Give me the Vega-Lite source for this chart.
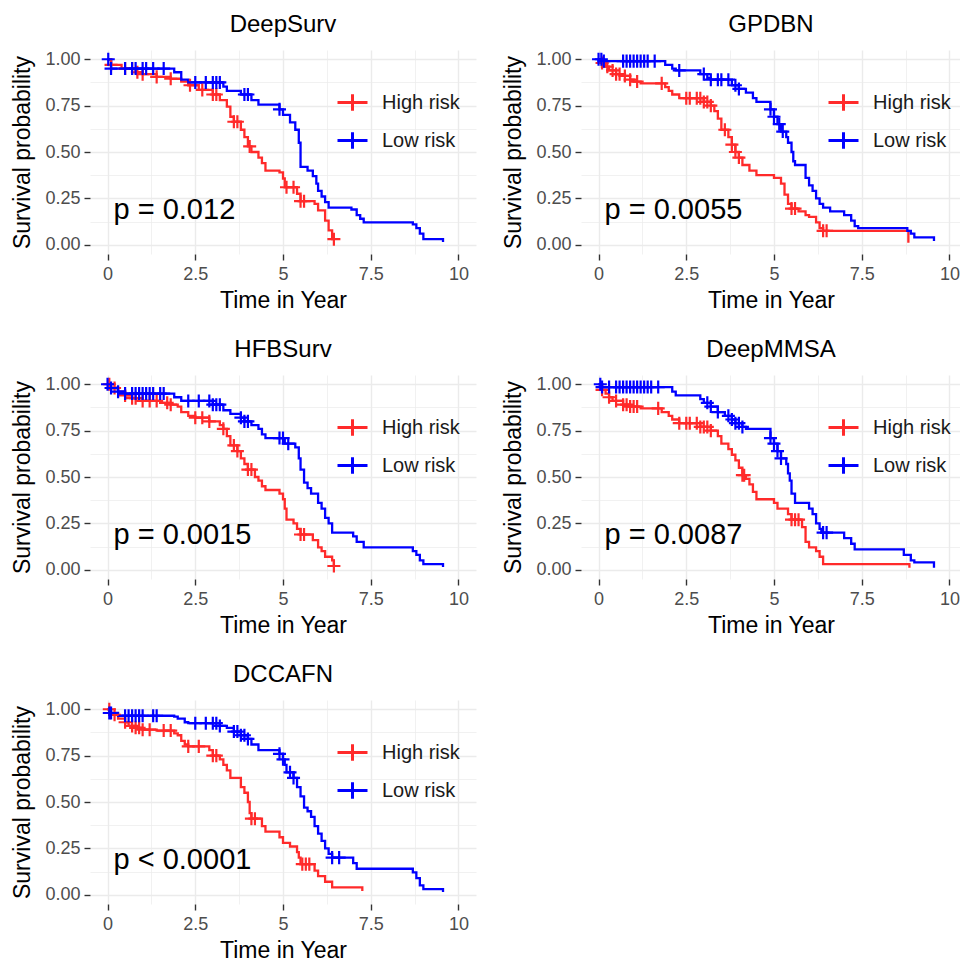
{
"$schema": "https://vega.github.io/schema/vega-lite/v6.json",
"padding": {"left": 11, "top": 13, "right": 0, "bottom": 0},
"columns": 2,
"bounds": "flush",
"spacing": {"row": 121, "column": 105},
"datasets": {
"pv": [
{"p":"DeepSurv","t":0.17,"s":0.14,"label":"p = 0.012"},
{"p":"GPDBN","t":0.17,"s":0.14,"label":"p = 0.0055"},
{"p":"HFBSurv","t":0.17,"s":0.14,"label":"p = 0.0015"},
{"p":"DeepMMSA","t":0.17,"s":0.14,"label":"p = 0.0087"},
{"p":"DCCAFN","t":0.17,"s":0.14,"label":"p < 0.0001"}
],
"km": [
{"p":"DeepSurv","g":"High risk","k":"c","t":0,"s":1},
{"p":"DeepSurv","g":"High risk","k":"c","t":0.1,"s":0.97},
{"p":"DeepSurv","g":"High risk","k":"c","t":0.4,"s":0.95},
{"p":"DeepSurv","g":"High risk","k":"c","t":0.8,"s":0.93},
{"p":"DeepSurv","g":"High risk","k":"c","t":1.0,"s":0.92},
{"p":"DeepSurv","g":"High risk","k":"c","t":1.4,"s":0.905},
{"p":"DeepSurv","g":"High risk","k":"c","t":1.8,"s":0.895},
{"p":"DeepSurv","g":"High risk","k":"c","t":2.1,"s":0.88},
{"p":"DeepSurv","g":"High risk","k":"c","t":2.3,"s":0.86},
{"p":"DeepSurv","g":"High risk","k":"c","t":2.6,"s":0.835},
{"p":"DeepSurv","g":"High risk","k":"c","t":3.0,"s":0.81},
{"p":"DeepSurv","g":"High risk","k":"c","t":3.2,"s":0.78},
{"p":"DeepSurv","g":"High risk","k":"c","t":3.4,"s":0.745},
{"p":"DeepSurv","g":"High risk","k":"c","t":3.5,"s":0.69},
{"p":"DeepSurv","g":"High risk","k":"c","t":3.6,"s":0.663},
{"p":"DeepSurv","g":"High risk","k":"c","t":3.8,"s":0.62},
{"p":"DeepSurv","g":"High risk","k":"c","t":3.9,"s":0.58},
{"p":"DeepSurv","g":"High risk","k":"c","t":4.0,"s":0.53},
{"p":"DeepSurv","g":"High risk","k":"c","t":4.1,"s":0.5},
{"p":"DeepSurv","g":"High risk","k":"c","t":4.3,"s":0.47},
{"p":"DeepSurv","g":"High risk","k":"c","t":4.4,"s":0.44},
{"p":"DeepSurv","g":"High risk","k":"c","t":4.5,"s":0.4},
{"p":"DeepSurv","g":"High risk","k":"c","t":4.9,"s":0.39},
{"p":"DeepSurv","g":"High risk","k":"c","t":5.0,"s":0.357},
{"p":"DeepSurv","g":"High risk","k":"c","t":5.05,"s":0.31},
{"p":"DeepSurv","g":"High risk","k":"c","t":5.4,"s":0.275},
{"p":"DeepSurv","g":"High risk","k":"c","t":5.5,"s":0.235},
{"p":"DeepSurv","g":"High risk","k":"c","t":5.9,"s":0.22},
{"p":"DeepSurv","g":"High risk","k":"c","t":6.0,"s":0.185},
{"p":"DeepSurv","g":"High risk","k":"c","t":6.2,"s":0.13},
{"p":"DeepSurv","g":"High risk","k":"c","t":6.3,"s":0.077},
{"p":"DeepSurv","g":"High risk","k":"c","t":6.4,"s":0.03},
{"p":"DeepSurv","g":"High risk","k":"c","t":6.45,"s":0.03},
{"p":"DeepSurv","g":"Low risk","k":"c","t":0,"s":1},
{"p":"DeepSurv","g":"Low risk","k":"c","t":0.1,"s":0.95},
{"p":"DeepSurv","g":"Low risk","k":"c","t":1.9,"s":0.93},
{"p":"DeepSurv","g":"Low risk","k":"c","t":2.1,"s":0.89},
{"p":"DeepSurv","g":"Low risk","k":"c","t":2.3,"s":0.875},
{"p":"DeepSurv","g":"Low risk","k":"c","t":3.3,"s":0.852},
{"p":"DeepSurv","g":"Low risk","k":"c","t":3.4,"s":0.83},
{"p":"DeepSurv","g":"Low risk","k":"c","t":3.8,"s":0.81},
{"p":"DeepSurv","g":"Low risk","k":"c","t":4.1,"s":0.78},
{"p":"DeepSurv","g":"Low risk","k":"c","t":4.3,"s":0.755},
{"p":"DeepSurv","g":"Low risk","k":"c","t":4.9,"s":0.73},
{"p":"DeepSurv","g":"Low risk","k":"c","t":5.0,"s":0.7},
{"p":"DeepSurv","g":"Low risk","k":"c","t":5.2,"s":0.66},
{"p":"DeepSurv","g":"Low risk","k":"c","t":5.35,"s":0.62},
{"p":"DeepSurv","g":"Low risk","k":"c","t":5.45,"s":0.55},
{"p":"DeepSurv","g":"Low risk","k":"c","t":5.5,"s":0.42},
{"p":"DeepSurv","g":"Low risk","k":"c","t":5.7,"s":0.4},
{"p":"DeepSurv","g":"Low risk","k":"c","t":5.85,"s":0.37},
{"p":"DeepSurv","g":"Low risk","k":"c","t":5.95,"s":0.33},
{"p":"DeepSurv","g":"Low risk","k":"c","t":6.0,"s":0.29},
{"p":"DeepSurv","g":"Low risk","k":"c","t":6.1,"s":0.26},
{"p":"DeepSurv","g":"Low risk","k":"c","t":6.2,"s":0.23},
{"p":"DeepSurv","g":"Low risk","k":"c","t":6.3,"s":0.2},
{"p":"DeepSurv","g":"Low risk","k":"c","t":6.95,"s":0.19},
{"p":"DeepSurv","g":"Low risk","k":"c","t":7.1,"s":0.16},
{"p":"DeepSurv","g":"Low risk","k":"c","t":7.2,"s":0.14},
{"p":"DeepSurv","g":"Low risk","k":"c","t":7.3,"s":0.12},
{"p":"DeepSurv","g":"Low risk","k":"c","t":8.7,"s":0.11},
{"p":"DeepSurv","g":"Low risk","k":"c","t":8.8,"s":0.09},
{"p":"DeepSurv","g":"Low risk","k":"c","t":8.9,"s":0.06},
{"p":"DeepSurv","g":"Low risk","k":"c","t":9.0,"s":0.03},
{"p":"DeepSurv","g":"Low risk","k":"c","t":9.55,"s":0.03},
{"p":"DeepSurv","g":"Low risk","k":"c","t":9.56,"s":0.015},
{"p":"DeepSurv","g":"High risk","k":"x","t":0.1,"s":0.97},
{"p":"DeepSurv","g":"High risk","k":"x","t":0.5,"s":0.95},
{"p":"DeepSurv","g":"High risk","k":"x","t":0.7,"s":0.95},
{"p":"DeepSurv","g":"High risk","k":"x","t":0.85,"s":0.93},
{"p":"DeepSurv","g":"High risk","k":"x","t":1.0,"s":0.92},
{"p":"DeepSurv","g":"High risk","k":"x","t":1.4,"s":0.905},
{"p":"DeepSurv","g":"High risk","k":"x","t":1.8,"s":0.895},
{"p":"DeepSurv","g":"High risk","k":"x","t":2.35,"s":0.86},
{"p":"DeepSurv","g":"High risk","k":"x","t":2.7,"s":0.835},
{"p":"DeepSurv","g":"High risk","k":"x","t":3.0,"s":0.81},
{"p":"DeepSurv","g":"High risk","k":"x","t":3.1,"s":0.81},
{"p":"DeepSurv","g":"High risk","k":"x","t":3.6,"s":0.663},
{"p":"DeepSurv","g":"High risk","k":"x","t":3.7,"s":0.663},
{"p":"DeepSurv","g":"High risk","k":"x","t":4.05,"s":0.53},
{"p":"DeepSurv","g":"High risk","k":"x","t":5.1,"s":0.31},
{"p":"DeepSurv","g":"High risk","k":"x","t":5.3,"s":0.31},
{"p":"DeepSurv","g":"High risk","k":"x","t":5.5,"s":0.235},
{"p":"DeepSurv","g":"High risk","k":"x","t":5.6,"s":0.235},
{"p":"DeepSurv","g":"High risk","k":"x","t":6.45,"s":0.03},
{"p":"DeepSurv","g":"Low risk","k":"x","t":0.02,"s":1},
{"p":"DeepSurv","g":"Low risk","k":"x","t":0.1,"s":0.95},
{"p":"DeepSurv","g":"Low risk","k":"x","t":0.5,"s":0.95},
{"p":"DeepSurv","g":"Low risk","k":"x","t":0.7,"s":0.95},
{"p":"DeepSurv","g":"Low risk","k":"x","t":0.8,"s":0.95},
{"p":"DeepSurv","g":"Low risk","k":"x","t":1.0,"s":0.95},
{"p":"DeepSurv","g":"Low risk","k":"x","t":1.1,"s":0.95},
{"p":"DeepSurv","g":"Low risk","k":"x","t":1.3,"s":0.95},
{"p":"DeepSurv","g":"Low risk","k":"x","t":1.6,"s":0.95},
{"p":"DeepSurv","g":"Low risk","k":"x","t":2.5,"s":0.875},
{"p":"DeepSurv","g":"Low risk","k":"x","t":2.8,"s":0.875},
{"p":"DeepSurv","g":"Low risk","k":"x","t":3.0,"s":0.875},
{"p":"DeepSurv","g":"Low risk","k":"x","t":3.1,"s":0.875},
{"p":"DeepSurv","g":"Low risk","k":"x","t":3.2,"s":0.875},
{"p":"DeepSurv","g":"Low risk","k":"x","t":3.9,"s":0.81},
{"p":"DeepSurv","g":"Low risk","k":"x","t":4.0,"s":0.81},
{"p":"DeepSurv","g":"Low risk","k":"x","t":4.9,"s":0.73},

{"p":"GPDBN","g":"High risk","k":"c","t":0,"s":1},
{"p":"GPDBN","g":"High risk","k":"c","t":0.1,"s":0.98},
{"p":"GPDBN","g":"High risk","k":"c","t":0.2,"s":0.96},
{"p":"GPDBN","g":"High risk","k":"c","t":0.3,"s":0.94},
{"p":"GPDBN","g":"High risk","k":"c","t":0.5,"s":0.92},
{"p":"GPDBN","g":"High risk","k":"c","t":0.7,"s":0.91},
{"p":"GPDBN","g":"High risk","k":"c","t":0.9,"s":0.89},
{"p":"GPDBN","g":"High risk","k":"c","t":1.0,"s":0.88},
{"p":"GPDBN","g":"High risk","k":"c","t":1.2,"s":0.87},
{"p":"GPDBN","g":"High risk","k":"c","t":1.9,"s":0.85},
{"p":"GPDBN","g":"High risk","k":"c","t":2.0,"s":0.83},
{"p":"GPDBN","g":"High risk","k":"c","t":2.1,"s":0.81},
{"p":"GPDBN","g":"High risk","k":"c","t":2.3,"s":0.79},
{"p":"GPDBN","g":"High risk","k":"c","t":3.0,"s":0.77},
{"p":"GPDBN","g":"High risk","k":"c","t":3.2,"s":0.75},
{"p":"GPDBN","g":"High risk","k":"c","t":3.3,"s":0.72},
{"p":"GPDBN","g":"High risk","k":"c","t":3.4,"s":0.68},
{"p":"GPDBN","g":"High risk","k":"c","t":3.5,"s":0.62},
{"p":"GPDBN","g":"High risk","k":"c","t":3.7,"s":0.58},
{"p":"GPDBN","g":"High risk","k":"c","t":3.8,"s":0.54},
{"p":"GPDBN","g":"High risk","k":"c","t":3.9,"s":0.5},
{"p":"GPDBN","g":"High risk","k":"c","t":4.0,"s":0.47},
{"p":"GPDBN","g":"High risk","k":"c","t":4.1,"s":0.43},
{"p":"GPDBN","g":"High risk","k":"c","t":4.3,"s":0.4},
{"p":"GPDBN","g":"High risk","k":"c","t":4.5,"s":0.375},
{"p":"GPDBN","g":"High risk","k":"c","t":5.0,"s":0.36},
{"p":"GPDBN","g":"High risk","k":"c","t":5.2,"s":0.33},
{"p":"GPDBN","g":"High risk","k":"c","t":5.3,"s":0.27},
{"p":"GPDBN","g":"High risk","k":"c","t":5.4,"s":0.22},
{"p":"GPDBN","g":"High risk","k":"c","t":5.5,"s":0.195},
{"p":"GPDBN","g":"High risk","k":"c","t":5.7,"s":0.18},
{"p":"GPDBN","g":"High risk","k":"c","t":5.9,"s":0.16},
{"p":"GPDBN","g":"High risk","k":"c","t":6.0,"s":0.15},
{"p":"GPDBN","g":"High risk","k":"c","t":6.2,"s":0.12},
{"p":"GPDBN","g":"High risk","k":"c","t":6.3,"s":0.09},
{"p":"GPDBN","g":"High risk","k":"c","t":6.4,"s":0.075},
{"p":"GPDBN","g":"High risk","k":"c","t":8.82,"s":0.075},
{"p":"GPDBN","g":"High risk","k":"c","t":8.83,"s":0.01},
{"p":"GPDBN","g":"Low risk","k":"c","t":0,"s":1},
{"p":"GPDBN","g":"Low risk","k":"c","t":0.1,"s":0.99},
{"p":"GPDBN","g":"Low risk","k":"c","t":1.9,"s":0.97},
{"p":"GPDBN","g":"Low risk","k":"c","t":2.1,"s":0.95},
{"p":"GPDBN","g":"Low risk","k":"c","t":2.2,"s":0.94},
{"p":"GPDBN","g":"Low risk","k":"c","t":2.9,"s":0.92},
{"p":"GPDBN","g":"Low risk","k":"c","t":3.1,"s":0.9},
{"p":"GPDBN","g":"Low risk","k":"c","t":3.2,"s":0.89},
{"p":"GPDBN","g":"Low risk","k":"c","t":3.8,"s":0.86},
{"p":"GPDBN","g":"Low risk","k":"c","t":4.0,"s":0.84},
{"p":"GPDBN","g":"Low risk","k":"c","t":4.2,"s":0.82},
{"p":"GPDBN","g":"Low risk","k":"c","t":4.4,"s":0.79},
{"p":"GPDBN","g":"Low risk","k":"c","t":4.5,"s":0.77},
{"p":"GPDBN","g":"Low risk","k":"c","t":4.9,"s":0.73},
{"p":"GPDBN","g":"Low risk","k":"c","t":5.0,"s":0.69},
{"p":"GPDBN","g":"Low risk","k":"c","t":5.1,"s":0.65},
{"p":"GPDBN","g":"Low risk","k":"c","t":5.2,"s":0.61},
{"p":"GPDBN","g":"Low risk","k":"c","t":5.35,"s":0.58},
{"p":"GPDBN","g":"Low risk","k":"c","t":5.4,"s":0.55},
{"p":"GPDBN","g":"Low risk","k":"c","t":5.5,"s":0.5},
{"p":"GPDBN","g":"Low risk","k":"c","t":5.55,"s":0.45},
{"p":"GPDBN","g":"Low risk","k":"c","t":5.6,"s":0.43},
{"p":"GPDBN","g":"Low risk","k":"c","t":5.9,"s":0.36},
{"p":"GPDBN","g":"Low risk","k":"c","t":6.0,"s":0.32},
{"p":"GPDBN","g":"Low risk","k":"c","t":6.1,"s":0.29},
{"p":"GPDBN","g":"Low risk","k":"c","t":6.2,"s":0.25},
{"p":"GPDBN","g":"Low risk","k":"c","t":6.3,"s":0.22},
{"p":"GPDBN","g":"Low risk","k":"c","t":6.4,"s":0.2},
{"p":"GPDBN","g":"Low risk","k":"c","t":6.6,"s":0.18},
{"p":"GPDBN","g":"Low risk","k":"c","t":7.0,"s":0.16},
{"p":"GPDBN","g":"Low risk","k":"c","t":7.2,"s":0.13},
{"p":"GPDBN","g":"Low risk","k":"c","t":7.3,"s":0.1},
{"p":"GPDBN","g":"Low risk","k":"c","t":7.4,"s":0.09},
{"p":"GPDBN","g":"Low risk","k":"c","t":8.8,"s":0.075},
{"p":"GPDBN","g":"Low risk","k":"c","t":8.9,"s":0.06},
{"p":"GPDBN","g":"Low risk","k":"c","t":9.0,"s":0.04},
{"p":"GPDBN","g":"Low risk","k":"c","t":9.55,"s":0.04},
{"p":"GPDBN","g":"Low risk","k":"c","t":9.56,"s":0.02},
{"p":"GPDBN","g":"High risk","k":"x","t":0.1,"s":0.98},
{"p":"GPDBN","g":"High risk","k":"x","t":0.25,"s":0.96},
{"p":"GPDBN","g":"High risk","k":"x","t":0.4,"s":0.94},
{"p":"GPDBN","g":"High risk","k":"x","t":0.5,"s":0.92},
{"p":"GPDBN","g":"High risk","k":"x","t":0.6,"s":0.92},
{"p":"GPDBN","g":"High risk","k":"x","t":0.75,"s":0.91},
{"p":"GPDBN","g":"High risk","k":"x","t":0.9,"s":0.89},
{"p":"GPDBN","g":"High risk","k":"x","t":1.1,"s":0.88},
{"p":"GPDBN","g":"High risk","k":"x","t":1.8,"s":0.87},
{"p":"GPDBN","g":"High risk","k":"x","t":2.5,"s":0.79},
{"p":"GPDBN","g":"High risk","k":"x","t":2.6,"s":0.79},
{"p":"GPDBN","g":"High risk","k":"x","t":2.8,"s":0.79},
{"p":"GPDBN","g":"High risk","k":"x","t":2.9,"s":0.79},
{"p":"GPDBN","g":"High risk","k":"x","t":3.0,"s":0.77},
{"p":"GPDBN","g":"High risk","k":"x","t":3.1,"s":0.77},
{"p":"GPDBN","g":"High risk","k":"x","t":3.2,"s":0.75},
{"p":"GPDBN","g":"High risk","k":"x","t":3.6,"s":0.62},
{"p":"GPDBN","g":"High risk","k":"x","t":3.8,"s":0.54},
{"p":"GPDBN","g":"High risk","k":"x","t":3.9,"s":0.5},
{"p":"GPDBN","g":"High risk","k":"x","t":4.0,"s":0.47},
{"p":"GPDBN","g":"High risk","k":"x","t":5.5,"s":0.195},
{"p":"GPDBN","g":"High risk","k":"x","t":5.6,"s":0.195},
{"p":"GPDBN","g":"High risk","k":"x","t":6.4,"s":0.075},
{"p":"GPDBN","g":"High risk","k":"x","t":6.5,"s":0.075},
{"p":"GPDBN","g":"Low risk","k":"x","t":0,"s":1},
{"p":"GPDBN","g":"Low risk","k":"x","t":0.08,"s":1},
{"p":"GPDBN","g":"Low risk","k":"x","t":0.15,"s":0.99},
{"p":"GPDBN","g":"Low risk","k":"x","t":0.7,"s":0.99},
{"p":"GPDBN","g":"Low risk","k":"x","t":0.8,"s":0.99},
{"p":"GPDBN","g":"Low risk","k":"x","t":0.9,"s":0.99},
{"p":"GPDBN","g":"Low risk","k":"x","t":1.0,"s":0.99},
{"p":"GPDBN","g":"Low risk","k":"x","t":1.1,"s":0.99},
{"p":"GPDBN","g":"Low risk","k":"x","t":1.2,"s":0.99},
{"p":"GPDBN","g":"Low risk","k":"x","t":1.3,"s":0.99},
{"p":"GPDBN","g":"Low risk","k":"x","t":1.4,"s":0.99},
{"p":"GPDBN","g":"Low risk","k":"x","t":1.6,"s":0.99},
{"p":"GPDBN","g":"Low risk","k":"x","t":2.3,"s":0.94},
{"p":"GPDBN","g":"Low risk","k":"x","t":3.0,"s":0.92},
{"p":"GPDBN","g":"Low risk","k":"x","t":3.2,"s":0.89},
{"p":"GPDBN","g":"Low risk","k":"x","t":3.4,"s":0.89},
{"p":"GPDBN","g":"Low risk","k":"x","t":3.5,"s":0.89},
{"p":"GPDBN","g":"Low risk","k":"x","t":3.7,"s":0.89},
{"p":"GPDBN","g":"Low risk","k":"x","t":3.9,"s":0.86},
{"p":"GPDBN","g":"Low risk","k":"x","t":4.0,"s":0.84},
{"p":"GPDBN","g":"Low risk","k":"x","t":4.9,"s":0.73},
{"p":"GPDBN","g":"Low risk","k":"x","t":5.0,"s":0.69},
{"p":"GPDBN","g":"Low risk","k":"x","t":5.15,"s":0.65},
{"p":"GPDBN","g":"Low risk","k":"x","t":5.25,"s":0.61},

{"p":"HFBSurv","g":"High risk","k":"c","t":0,"s":1},
{"p":"HFBSurv","g":"High risk","k":"c","t":0.1,"s":0.98},
{"p":"HFBSurv","g":"High risk","k":"c","t":0.3,"s":0.96},
{"p":"HFBSurv","g":"High risk","k":"c","t":0.5,"s":0.94},
{"p":"HFBSurv","g":"High risk","k":"c","t":0.7,"s":0.925},
{"p":"HFBSurv","g":"High risk","k":"c","t":1.0,"s":0.91},
{"p":"HFBSurv","g":"High risk","k":"c","t":1.5,"s":0.9},
{"p":"HFBSurv","g":"High risk","k":"c","t":1.8,"s":0.89},
{"p":"HFBSurv","g":"High risk","k":"c","t":2.0,"s":0.88},
{"p":"HFBSurv","g":"High risk","k":"c","t":2.1,"s":0.85},
{"p":"HFBSurv","g":"High risk","k":"c","t":2.3,"s":0.83},
{"p":"HFBSurv","g":"High risk","k":"c","t":2.5,"s":0.82},
{"p":"HFBSurv","g":"High risk","k":"c","t":2.9,"s":0.8},
{"p":"HFBSurv","g":"High risk","k":"c","t":3.2,"s":0.78},
{"p":"HFBSurv","g":"High risk","k":"c","t":3.3,"s":0.76},
{"p":"HFBSurv","g":"High risk","k":"c","t":3.4,"s":0.72},
{"p":"HFBSurv","g":"High risk","k":"c","t":3.5,"s":0.67},
{"p":"HFBSurv","g":"High risk","k":"c","t":3.7,"s":0.64},
{"p":"HFBSurv","g":"High risk","k":"c","t":3.8,"s":0.6},
{"p":"HFBSurv","g":"High risk","k":"c","t":3.9,"s":0.57},
{"p":"HFBSurv","g":"High risk","k":"c","t":4.0,"s":0.54},
{"p":"HFBSurv","g":"High risk","k":"c","t":4.2,"s":0.5},
{"p":"HFBSurv","g":"High risk","k":"c","t":4.3,"s":0.48},
{"p":"HFBSurv","g":"High risk","k":"c","t":4.4,"s":0.45},
{"p":"HFBSurv","g":"High risk","k":"c","t":4.5,"s":0.43},
{"p":"HFBSurv","g":"High risk","k":"c","t":4.9,"s":0.41},
{"p":"HFBSurv","g":"High risk","k":"c","t":5.0,"s":0.38},
{"p":"HFBSurv","g":"High risk","k":"c","t":5.05,"s":0.33},
{"p":"HFBSurv","g":"High risk","k":"c","t":5.1,"s":0.27},
{"p":"HFBSurv","g":"High risk","k":"c","t":5.3,"s":0.25},
{"p":"HFBSurv","g":"High risk","k":"c","t":5.4,"s":0.22},
{"p":"HFBSurv","g":"High risk","k":"c","t":5.5,"s":0.19},
{"p":"HFBSurv","g":"High risk","k":"c","t":5.85,"s":0.16},
{"p":"HFBSurv","g":"High risk","k":"c","t":6.0,"s":0.12},
{"p":"HFBSurv","g":"High risk","k":"c","t":6.1,"s":0.1},
{"p":"HFBSurv","g":"High risk","k":"c","t":6.2,"s":0.07},
{"p":"HFBSurv","g":"High risk","k":"c","t":6.4,"s":0.05},
{"p":"HFBSurv","g":"High risk","k":"c","t":6.45,"s":0.02},
{"p":"HFBSurv","g":"Low risk","k":"c","t":0,"s":1},
{"p":"HFBSurv","g":"Low risk","k":"c","t":0.05,"s":0.98},
{"p":"HFBSurv","g":"Low risk","k":"c","t":0.3,"s":0.96},
{"p":"HFBSurv","g":"Low risk","k":"c","t":0.5,"s":0.95},
{"p":"HFBSurv","g":"Low risk","k":"c","t":1.9,"s":0.93},
{"p":"HFBSurv","g":"Low risk","k":"c","t":2.1,"s":0.91},
{"p":"HFBSurv","g":"Low risk","k":"c","t":3.0,"s":0.89},
{"p":"HFBSurv","g":"Low risk","k":"c","t":3.3,"s":0.86},
{"p":"HFBSurv","g":"Low risk","k":"c","t":3.5,"s":0.84},
{"p":"HFBSurv","g":"Low risk","k":"c","t":3.8,"s":0.82},
{"p":"HFBSurv","g":"Low risk","k":"c","t":3.9,"s":0.8},
{"p":"HFBSurv","g":"Low risk","k":"c","t":4.1,"s":0.78},
{"p":"HFBSurv","g":"Low risk","k":"c","t":4.3,"s":0.76},
{"p":"HFBSurv","g":"Low risk","k":"c","t":4.4,"s":0.73},
{"p":"HFBSurv","g":"Low risk","k":"c","t":4.5,"s":0.71},
{"p":"HFBSurv","g":"Low risk","k":"c","t":5.05,"s":0.68},
{"p":"HFBSurv","g":"Low risk","k":"c","t":5.35,"s":0.66},
{"p":"HFBSurv","g":"Low risk","k":"c","t":5.45,"s":0.6},
{"p":"HFBSurv","g":"Low risk","k":"c","t":5.5,"s":0.54},
{"p":"HFBSurv","g":"Low risk","k":"c","t":5.6,"s":0.47},
{"p":"HFBSurv","g":"Low risk","k":"c","t":5.7,"s":0.44},
{"p":"HFBSurv","g":"Low risk","k":"c","t":5.8,"s":0.41},
{"p":"HFBSurv","g":"Low risk","k":"c","t":6.0,"s":0.36},
{"p":"HFBSurv","g":"Low risk","k":"c","t":6.1,"s":0.33},
{"p":"HFBSurv","g":"Low risk","k":"c","t":6.2,"s":0.28},
{"p":"HFBSurv","g":"Low risk","k":"c","t":6.3,"s":0.25},
{"p":"HFBSurv","g":"Low risk","k":"c","t":6.4,"s":0.2},
{"p":"HFBSurv","g":"Low risk","k":"c","t":7.0,"s":0.18},
{"p":"HFBSurv","g":"Low risk","k":"c","t":7.1,"s":0.15},
{"p":"HFBSurv","g":"Low risk","k":"c","t":7.3,"s":0.12},
{"p":"HFBSurv","g":"Low risk","k":"c","t":8.7,"s":0.1},
{"p":"HFBSurv","g":"Low risk","k":"c","t":8.8,"s":0.08},
{"p":"HFBSurv","g":"Low risk","k":"c","t":8.9,"s":0.05},
{"p":"HFBSurv","g":"Low risk","k":"c","t":9.0,"s":0.03},
{"p":"HFBSurv","g":"Low risk","k":"c","t":9.55,"s":0.03},
{"p":"HFBSurv","g":"Low risk","k":"c","t":9.56,"s":0.015},
{"p":"HFBSurv","g":"High risk","k":"x","t":0.05,"s":1},
{"p":"HFBSurv","g":"High risk","k":"x","t":0.2,"s":0.98},
{"p":"HFBSurv","g":"High risk","k":"x","t":0.5,"s":0.94},
{"p":"HFBSurv","g":"High risk","k":"x","t":0.7,"s":0.925},
{"p":"HFBSurv","g":"High risk","k":"x","t":0.8,"s":0.925},
{"p":"HFBSurv","g":"High risk","k":"x","t":1.0,"s":0.91},
{"p":"HFBSurv","g":"High risk","k":"x","t":1.2,"s":0.91},
{"p":"HFBSurv","g":"High risk","k":"x","t":1.4,"s":0.91},
{"p":"HFBSurv","g":"High risk","k":"x","t":1.7,"s":0.9},
{"p":"HFBSurv","g":"High risk","k":"x","t":1.8,"s":0.89},
{"p":"HFBSurv","g":"High risk","k":"x","t":2.5,"s":0.82},
{"p":"HFBSurv","g":"High risk","k":"x","t":2.7,"s":0.82},
{"p":"HFBSurv","g":"High risk","k":"x","t":2.9,"s":0.8},
{"p":"HFBSurv","g":"High risk","k":"x","t":3.3,"s":0.76},
{"p":"HFBSurv","g":"High risk","k":"x","t":3.6,"s":0.67},
{"p":"HFBSurv","g":"High risk","k":"x","t":3.7,"s":0.64},
{"p":"HFBSurv","g":"High risk","k":"x","t":4.0,"s":0.54},
{"p":"HFBSurv","g":"High risk","k":"x","t":4.1,"s":0.54},
{"p":"HFBSurv","g":"High risk","k":"x","t":5.5,"s":0.19},
{"p":"HFBSurv","g":"High risk","k":"x","t":5.6,"s":0.19},
{"p":"HFBSurv","g":"High risk","k":"x","t":6.45,"s":0.02},
{"p":"HFBSurv","g":"Low risk","k":"x","t":0,"s":1},
{"p":"HFBSurv","g":"Low risk","k":"x","t":0.1,"s":0.98},
{"p":"HFBSurv","g":"Low risk","k":"x","t":0.3,"s":0.96},
{"p":"HFBSurv","g":"Low risk","k":"x","t":0.5,"s":0.95},
{"p":"HFBSurv","g":"Low risk","k":"x","t":0.7,"s":0.95},
{"p":"HFBSurv","g":"Low risk","k":"x","t":0.8,"s":0.95},
{"p":"HFBSurv","g":"Low risk","k":"x","t":0.9,"s":0.95},
{"p":"HFBSurv","g":"Low risk","k":"x","t":1.0,"s":0.95},
{"p":"HFBSurv","g":"Low risk","k":"x","t":1.1,"s":0.95},
{"p":"HFBSurv","g":"Low risk","k":"x","t":1.2,"s":0.95},
{"p":"HFBSurv","g":"Low risk","k":"x","t":1.3,"s":0.95},
{"p":"HFBSurv","g":"Low risk","k":"x","t":1.5,"s":0.95},
{"p":"HFBSurv","g":"Low risk","k":"x","t":1.6,"s":0.95},
{"p":"HFBSurv","g":"Low risk","k":"x","t":2.3,"s":0.91},
{"p":"HFBSurv","g":"Low risk","k":"x","t":2.6,"s":0.91},
{"p":"HFBSurv","g":"Low risk","k":"x","t":2.9,"s":0.91},
{"p":"HFBSurv","g":"Low risk","k":"x","t":3.0,"s":0.89},
{"p":"HFBSurv","g":"Low risk","k":"x","t":3.1,"s":0.89},
{"p":"HFBSurv","g":"Low risk","k":"x","t":3.2,"s":0.89},
{"p":"HFBSurv","g":"Low risk","k":"x","t":3.8,"s":0.82},
{"p":"HFBSurv","g":"Low risk","k":"x","t":3.9,"s":0.8},
{"p":"HFBSurv","g":"Low risk","k":"x","t":4.0,"s":0.8},
{"p":"HFBSurv","g":"Low risk","k":"x","t":4.9,"s":0.71},
{"p":"HFBSurv","g":"Low risk","k":"x","t":5.0,"s":0.71},
{"p":"HFBSurv","g":"Low risk","k":"x","t":5.15,"s":0.68},

{"p":"DeepMMSA","g":"High risk","k":"c","t":0,"s":1},
{"p":"DeepMMSA","g":"High risk","k":"c","t":0.1,"s":0.97},
{"p":"DeepMMSA","g":"High risk","k":"c","t":0.2,"s":0.95},
{"p":"DeepMMSA","g":"High risk","k":"c","t":0.3,"s":0.93},
{"p":"DeepMMSA","g":"High risk","k":"c","t":0.4,"s":0.91},
{"p":"DeepMMSA","g":"High risk","k":"c","t":0.7,"s":0.89},
{"p":"DeepMMSA","g":"High risk","k":"c","t":0.9,"s":0.88},
{"p":"DeepMMSA","g":"High risk","k":"c","t":1.2,"s":0.87},
{"p":"DeepMMSA","g":"High risk","k":"c","t":1.8,"s":0.85},
{"p":"DeepMMSA","g":"High risk","k":"c","t":2.0,"s":0.83},
{"p":"DeepMMSA","g":"High risk","k":"c","t":2.1,"s":0.81},
{"p":"DeepMMSA","g":"High risk","k":"c","t":2.3,"s":0.79},
{"p":"DeepMMSA","g":"High risk","k":"c","t":2.9,"s":0.77},
{"p":"DeepMMSA","g":"High risk","k":"c","t":3.2,"s":0.75},
{"p":"DeepMMSA","g":"High risk","k":"c","t":3.4,"s":0.72},
{"p":"DeepMMSA","g":"High risk","k":"c","t":3.5,"s":0.68},
{"p":"DeepMMSA","g":"High risk","k":"c","t":3.7,"s":0.65},
{"p":"DeepMMSA","g":"High risk","k":"c","t":3.8,"s":0.62},
{"p":"DeepMMSA","g":"High risk","k":"c","t":3.9,"s":0.59},
{"p":"DeepMMSA","g":"High risk","k":"c","t":4.0,"s":0.55},
{"p":"DeepMMSA","g":"High risk","k":"c","t":4.1,"s":0.51},
{"p":"DeepMMSA","g":"High risk","k":"c","t":4.2,"s":0.49},
{"p":"DeepMMSA","g":"High risk","k":"c","t":4.3,"s":0.46},
{"p":"DeepMMSA","g":"High risk","k":"c","t":4.4,"s":0.42},
{"p":"DeepMMSA","g":"High risk","k":"c","t":4.5,"s":0.38},
{"p":"DeepMMSA","g":"High risk","k":"c","t":5.0,"s":0.36},
{"p":"DeepMMSA","g":"High risk","k":"c","t":5.1,"s":0.33},
{"p":"DeepMMSA","g":"High risk","k":"c","t":5.4,"s":0.3},
{"p":"DeepMMSA","g":"High risk","k":"c","t":5.5,"s":0.27},
{"p":"DeepMMSA","g":"High risk","k":"c","t":5.8,"s":0.23},
{"p":"DeepMMSA","g":"High risk","k":"c","t":5.9,"s":0.15},
{"p":"DeepMMSA","g":"High risk","k":"c","t":6.0,"s":0.12},
{"p":"DeepMMSA","g":"High risk","k":"c","t":6.2,"s":0.1},
{"p":"DeepMMSA","g":"High risk","k":"c","t":6.3,"s":0.07},
{"p":"DeepMMSA","g":"High risk","k":"c","t":6.4,"s":0.03},
{"p":"DeepMMSA","g":"High risk","k":"c","t":8.85,"s":0.03},
{"p":"DeepMMSA","g":"High risk","k":"c","t":8.86,"s":0.01},
{"p":"DeepMMSA","g":"Low risk","k":"c","t":0,"s":1},
{"p":"DeepMMSA","g":"Low risk","k":"c","t":0.1,"s":0.985},
{"p":"DeepMMSA","g":"Low risk","k":"c","t":2.1,"s":0.96},
{"p":"DeepMMSA","g":"Low risk","k":"c","t":2.2,"s":0.94},
{"p":"DeepMMSA","g":"Low risk","k":"c","t":2.9,"s":0.92},
{"p":"DeepMMSA","g":"Low risk","k":"c","t":3.0,"s":0.9},
{"p":"DeepMMSA","g":"Low risk","k":"c","t":3.2,"s":0.88},
{"p":"DeepMMSA","g":"Low risk","k":"c","t":3.4,"s":0.85},
{"p":"DeepMMSA","g":"Low risk","k":"c","t":3.6,"s":0.83},
{"p":"DeepMMSA","g":"Low risk","k":"c","t":3.8,"s":0.81},
{"p":"DeepMMSA","g":"Low risk","k":"c","t":3.9,"s":0.79},
{"p":"DeepMMSA","g":"Low risk","k":"c","t":4.1,"s":0.77},
{"p":"DeepMMSA","g":"Low risk","k":"c","t":4.2,"s":0.76},
{"p":"DeepMMSA","g":"Low risk","k":"c","t":4.9,"s":0.71},
{"p":"DeepMMSA","g":"Low risk","k":"c","t":5.0,"s":0.68},
{"p":"DeepMMSA","g":"Low risk","k":"c","t":5.1,"s":0.64},
{"p":"DeepMMSA","g":"Low risk","k":"c","t":5.2,"s":0.6},
{"p":"DeepMMSA","g":"Low risk","k":"c","t":5.35,"s":0.57},
{"p":"DeepMMSA","g":"Low risk","k":"c","t":5.4,"s":0.52},
{"p":"DeepMMSA","g":"Low risk","k":"c","t":5.45,"s":0.48},
{"p":"DeepMMSA","g":"Low risk","k":"c","t":5.5,"s":0.41},
{"p":"DeepMMSA","g":"Low risk","k":"c","t":5.6,"s":0.36},
{"p":"DeepMMSA","g":"Low risk","k":"c","t":6.0,"s":0.33},
{"p":"DeepMMSA","g":"Low risk","k":"c","t":6.1,"s":0.3},
{"p":"DeepMMSA","g":"Low risk","k":"c","t":6.2,"s":0.25},
{"p":"DeepMMSA","g":"Low risk","k":"c","t":6.3,"s":0.22},
{"p":"DeepMMSA","g":"Low risk","k":"c","t":6.35,"s":0.2},
{"p":"DeepMMSA","g":"Low risk","k":"c","t":7.0,"s":0.17},
{"p":"DeepMMSA","g":"Low risk","k":"c","t":7.2,"s":0.14},
{"p":"DeepMMSA","g":"Low risk","k":"c","t":7.3,"s":0.11},
{"p":"DeepMMSA","g":"Low risk","k":"c","t":8.7,"s":0.08},
{"p":"DeepMMSA","g":"Low risk","k":"c","t":8.9,"s":0.05},
{"p":"DeepMMSA","g":"Low risk","k":"c","t":9.0,"s":0.04},
{"p":"DeepMMSA","g":"Low risk","k":"c","t":9.55,"s":0.04},
{"p":"DeepMMSA","g":"Low risk","k":"c","t":9.56,"s":0.01},
{"p":"DeepMMSA","g":"High risk","k":"x","t":0.1,"s":0.97},
{"p":"DeepMMSA","g":"High risk","k":"x","t":0.3,"s":0.93},
{"p":"DeepMMSA","g":"High risk","k":"x","t":0.5,"s":0.91},
{"p":"DeepMMSA","g":"High risk","k":"x","t":0.7,"s":0.89},
{"p":"DeepMMSA","g":"High risk","k":"x","t":0.8,"s":0.89},
{"p":"DeepMMSA","g":"High risk","k":"x","t":0.9,"s":0.88},
{"p":"DeepMMSA","g":"High risk","k":"x","t":1.0,"s":0.88},
{"p":"DeepMMSA","g":"High risk","k":"x","t":1.1,"s":0.88},
{"p":"DeepMMSA","g":"High risk","k":"x","t":1.7,"s":0.87},
{"p":"DeepMMSA","g":"High risk","k":"x","t":2.3,"s":0.79},
{"p":"DeepMMSA","g":"High risk","k":"x","t":2.5,"s":0.79},
{"p":"DeepMMSA","g":"High risk","k":"x","t":2.6,"s":0.79},
{"p":"DeepMMSA","g":"High risk","k":"x","t":2.8,"s":0.79},
{"p":"DeepMMSA","g":"High risk","k":"x","t":2.9,"s":0.77},
{"p":"DeepMMSA","g":"High risk","k":"x","t":3.0,"s":0.77},
{"p":"DeepMMSA","g":"High risk","k":"x","t":3.1,"s":0.77},
{"p":"DeepMMSA","g":"High risk","k":"x","t":3.2,"s":0.75},
{"p":"DeepMMSA","g":"High risk","k":"x","t":4.1,"s":0.51},
{"p":"DeepMMSA","g":"High risk","k":"x","t":4.15,"s":0.51},
{"p":"DeepMMSA","g":"High risk","k":"x","t":5.5,"s":0.27},
{"p":"DeepMMSA","g":"High risk","k":"x","t":5.6,"s":0.27},
{"p":"DeepMMSA","g":"High risk","k":"x","t":5.7,"s":0.27},
{"p":"DeepMMSA","g":"Low risk","k":"x","t":0.05,"s":1},
{"p":"DeepMMSA","g":"Low risk","k":"x","t":0.1,"s":0.985},
{"p":"DeepMMSA","g":"Low risk","k":"x","t":0.3,"s":0.985},
{"p":"DeepMMSA","g":"Low risk","k":"x","t":0.5,"s":0.985},
{"p":"DeepMMSA","g":"Low risk","k":"x","t":0.6,"s":0.985},
{"p":"DeepMMSA","g":"Low risk","k":"x","t":0.7,"s":0.985},
{"p":"DeepMMSA","g":"Low risk","k":"x","t":0.8,"s":0.985},
{"p":"DeepMMSA","g":"Low risk","k":"x","t":0.9,"s":0.985},
{"p":"DeepMMSA","g":"Low risk","k":"x","t":1.0,"s":0.985},
{"p":"DeepMMSA","g":"Low risk","k":"x","t":1.1,"s":0.985},
{"p":"DeepMMSA","g":"Low risk","k":"x","t":1.2,"s":0.985},
{"p":"DeepMMSA","g":"Low risk","k":"x","t":1.3,"s":0.985},
{"p":"DeepMMSA","g":"Low risk","k":"x","t":1.4,"s":0.985},
{"p":"DeepMMSA","g":"Low risk","k":"x","t":1.5,"s":0.985},
{"p":"DeepMMSA","g":"Low risk","k":"x","t":1.7,"s":0.985},
{"p":"DeepMMSA","g":"Low risk","k":"x","t":3.1,"s":0.9},
{"p":"DeepMMSA","g":"Low risk","k":"x","t":3.2,"s":0.88},
{"p":"DeepMMSA","g":"Low risk","k":"x","t":3.4,"s":0.85},
{"p":"DeepMMSA","g":"Low risk","k":"x","t":3.7,"s":0.83},
{"p":"DeepMMSA","g":"Low risk","k":"x","t":3.8,"s":0.81},
{"p":"DeepMMSA","g":"Low risk","k":"x","t":3.9,"s":0.79},
{"p":"DeepMMSA","g":"Low risk","k":"x","t":4.0,"s":0.79},
{"p":"DeepMMSA","g":"Low risk","k":"x","t":4.1,"s":0.77},
{"p":"DeepMMSA","g":"Low risk","k":"x","t":4.9,"s":0.71},
{"p":"DeepMMSA","g":"Low risk","k":"x","t":5.0,"s":0.68},
{"p":"DeepMMSA","g":"Low risk","k":"x","t":5.1,"s":0.64},
{"p":"DeepMMSA","g":"Low risk","k":"x","t":5.2,"s":0.6},
{"p":"DeepMMSA","g":"Low risk","k":"x","t":6.4,"s":0.2},
{"p":"DeepMMSA","g":"Low risk","k":"x","t":6.5,"s":0.2},

{"p":"DCCAFN","g":"High risk","k":"c","t":0,"s":1},
{"p":"DCCAFN","g":"High risk","k":"c","t":0.1,"s":0.97},
{"p":"DCCAFN","g":"High risk","k":"c","t":0.3,"s":0.95},
{"p":"DCCAFN","g":"High risk","k":"c","t":0.5,"s":0.93},
{"p":"DCCAFN","g":"High risk","k":"c","t":0.6,"s":0.91},
{"p":"DCCAFN","g":"High risk","k":"c","t":0.8,"s":0.9},
{"p":"DCCAFN","g":"High risk","k":"c","t":1.0,"s":0.89},
{"p":"DCCAFN","g":"High risk","k":"c","t":1.4,"s":0.885},
{"p":"DCCAFN","g":"High risk","k":"c","t":1.9,"s":0.87},
{"p":"DCCAFN","g":"High risk","k":"c","t":2.0,"s":0.86},
{"p":"DCCAFN","g":"High risk","k":"c","t":2.1,"s":0.83},
{"p":"DCCAFN","g":"High risk","k":"c","t":2.2,"s":0.81},
{"p":"DCCAFN","g":"High risk","k":"c","t":2.3,"s":0.8},
{"p":"DCCAFN","g":"High risk","k":"c","t":2.9,"s":0.78},
{"p":"DCCAFN","g":"High risk","k":"c","t":3.0,"s":0.75},
{"p":"DCCAFN","g":"High risk","k":"c","t":3.2,"s":0.73},
{"p":"DCCAFN","g":"High risk","k":"c","t":3.3,"s":0.7},
{"p":"DCCAFN","g":"High risk","k":"c","t":3.4,"s":0.67},
{"p":"DCCAFN","g":"High risk","k":"c","t":3.5,"s":0.63},
{"p":"DCCAFN","g":"High risk","k":"c","t":3.8,"s":0.58},
{"p":"DCCAFN","g":"High risk","k":"c","t":3.9,"s":0.55},
{"p":"DCCAFN","g":"High risk","k":"c","t":4.0,"s":0.5},
{"p":"DCCAFN","g":"High risk","k":"c","t":4.05,"s":0.44},
{"p":"DCCAFN","g":"High risk","k":"c","t":4.1,"s":0.41},
{"p":"DCCAFN","g":"High risk","k":"c","t":4.4,"s":0.37},
{"p":"DCCAFN","g":"High risk","k":"c","t":4.5,"s":0.34},
{"p":"DCCAFN","g":"High risk","k":"c","t":4.9,"s":0.31},
{"p":"DCCAFN","g":"High risk","k":"c","t":5.0,"s":0.28},
{"p":"DCCAFN","g":"High risk","k":"c","t":5.2,"s":0.26},
{"p":"DCCAFN","g":"High risk","k":"c","t":5.4,"s":0.23},
{"p":"DCCAFN","g":"High risk","k":"c","t":5.45,"s":0.2},
{"p":"DCCAFN","g":"High risk","k":"c","t":5.5,"s":0.165},
{"p":"DCCAFN","g":"High risk","k":"c","t":5.9,"s":0.13},
{"p":"DCCAFN","g":"High risk","k":"c","t":6.0,"s":0.1},
{"p":"DCCAFN","g":"High risk","k":"c","t":6.2,"s":0.07},
{"p":"DCCAFN","g":"High risk","k":"c","t":6.4,"s":0.04},
{"p":"DCCAFN","g":"High risk","k":"c","t":7.25,"s":0.04},
{"p":"DCCAFN","g":"High risk","k":"c","t":7.26,"s":0.02},
{"p":"DCCAFN","g":"Low risk","k":"c","t":0,"s":1},
{"p":"DCCAFN","g":"Low risk","k":"c","t":0.05,"s":0.98},
{"p":"DCCAFN","g":"Low risk","k":"c","t":0.3,"s":0.965},
{"p":"DCCAFN","g":"Low risk","k":"c","t":1.9,"s":0.96},
{"p":"DCCAFN","g":"Low risk","k":"c","t":2.0,"s":0.95},
{"p":"DCCAFN","g":"Low risk","k":"c","t":2.2,"s":0.93},
{"p":"DCCAFN","g":"Low risk","k":"c","t":2.3,"s":0.925},
{"p":"DCCAFN","g":"Low risk","k":"c","t":3.2,"s":0.91},
{"p":"DCCAFN","g":"Low risk","k":"c","t":3.4,"s":0.9},
{"p":"DCCAFN","g":"Low risk","k":"c","t":3.6,"s":0.88},
{"p":"DCCAFN","g":"Low risk","k":"c","t":3.8,"s":0.86},
{"p":"DCCAFN","g":"Low risk","k":"c","t":4.0,"s":0.84},
{"p":"DCCAFN","g":"Low risk","k":"c","t":4.1,"s":0.81},
{"p":"DCCAFN","g":"Low risk","k":"c","t":4.3,"s":0.78},
{"p":"DCCAFN","g":"Low risk","k":"c","t":4.9,"s":0.76},
{"p":"DCCAFN","g":"Low risk","k":"c","t":5.0,"s":0.73},
{"p":"DCCAFN","g":"Low risk","k":"c","t":5.05,"s":0.7},
{"p":"DCCAFN","g":"Low risk","k":"c","t":5.1,"s":0.66},
{"p":"DCCAFN","g":"Low risk","k":"c","t":5.3,"s":0.63},
{"p":"DCCAFN","g":"Low risk","k":"c","t":5.4,"s":0.58},
{"p":"DCCAFN","g":"Low risk","k":"c","t":5.5,"s":0.53},
{"p":"DCCAFN","g":"Low risk","k":"c","t":5.6,"s":0.47},
{"p":"DCCAFN","g":"Low risk","k":"c","t":5.7,"s":0.45},
{"p":"DCCAFN","g":"Low risk","k":"c","t":5.8,"s":0.42},
{"p":"DCCAFN","g":"Low risk","k":"c","t":5.9,"s":0.37},
{"p":"DCCAFN","g":"Low risk","k":"c","t":6.0,"s":0.33},
{"p":"DCCAFN","g":"Low risk","k":"c","t":6.1,"s":0.29},
{"p":"DCCAFN","g":"Low risk","k":"c","t":6.2,"s":0.25},
{"p":"DCCAFN","g":"Low risk","k":"c","t":6.3,"s":0.22},
{"p":"DCCAFN","g":"Low risk","k":"c","t":6.4,"s":0.2},
{"p":"DCCAFN","g":"Low risk","k":"c","t":7.0,"s":0.17},
{"p":"DCCAFN","g":"Low risk","k":"c","t":7.1,"s":0.14},
{"p":"DCCAFN","g":"Low risk","k":"c","t":8.7,"s":0.12},
{"p":"DCCAFN","g":"Low risk","k":"c","t":8.8,"s":0.09},
{"p":"DCCAFN","g":"Low risk","k":"c","t":8.9,"s":0.05},
{"p":"DCCAFN","g":"Low risk","k":"c","t":9.0,"s":0.03},
{"p":"DCCAFN","g":"Low risk","k":"c","t":9.55,"s":0.03},
{"p":"DCCAFN","g":"Low risk","k":"c","t":9.56,"s":0.015},
{"p":"DCCAFN","g":"High risk","k":"x","t":0.05,"s":1},
{"p":"DCCAFN","g":"High risk","k":"x","t":0.2,"s":0.97},
{"p":"DCCAFN","g":"High risk","k":"x","t":0.5,"s":0.93},
{"p":"DCCAFN","g":"High risk","k":"x","t":0.7,"s":0.91},
{"p":"DCCAFN","g":"High risk","k":"x","t":0.8,"s":0.9},
{"p":"DCCAFN","g":"High risk","k":"x","t":0.9,"s":0.9},
{"p":"DCCAFN","g":"High risk","k":"x","t":1.0,"s":0.89},
{"p":"DCCAFN","g":"High risk","k":"x","t":1.2,"s":0.89},
{"p":"DCCAFN","g":"High risk","k":"x","t":1.6,"s":0.885},
{"p":"DCCAFN","g":"High risk","k":"x","t":1.8,"s":0.885},
{"p":"DCCAFN","g":"High risk","k":"x","t":2.3,"s":0.8},
{"p":"DCCAFN","g":"High risk","k":"x","t":2.6,"s":0.8},
{"p":"DCCAFN","g":"High risk","k":"x","t":3.0,"s":0.75},
{"p":"DCCAFN","g":"High risk","k":"x","t":3.1,"s":0.75},
{"p":"DCCAFN","g":"High risk","k":"x","t":4.1,"s":0.41},
{"p":"DCCAFN","g":"High risk","k":"x","t":4.2,"s":0.41},
{"p":"DCCAFN","g":"High risk","k":"x","t":5.55,"s":0.165},
{"p":"DCCAFN","g":"High risk","k":"x","t":5.65,"s":0.165},
{"p":"DCCAFN","g":"High risk","k":"x","t":5.75,"s":0.165},
{"p":"DCCAFN","g":"Low risk","k":"x","t":0.05,"s":0.98},
{"p":"DCCAFN","g":"Low risk","k":"x","t":0.1,"s":0.98},
{"p":"DCCAFN","g":"Low risk","k":"x","t":0.5,"s":0.965},
{"p":"DCCAFN","g":"Low risk","k":"x","t":0.6,"s":0.965},
{"p":"DCCAFN","g":"Low risk","k":"x","t":0.7,"s":0.965},
{"p":"DCCAFN","g":"Low risk","k":"x","t":0.8,"s":0.965},
{"p":"DCCAFN","g":"Low risk","k":"x","t":0.9,"s":0.965},
{"p":"DCCAFN","g":"Low risk","k":"x","t":1.0,"s":0.965},
{"p":"DCCAFN","g":"Low risk","k":"x","t":1.3,"s":0.965},
{"p":"DCCAFN","g":"Low risk","k":"x","t":1.4,"s":0.965},
{"p":"DCCAFN","g":"Low risk","k":"x","t":2.5,"s":0.925},
{"p":"DCCAFN","g":"Low risk","k":"x","t":2.8,"s":0.925},
{"p":"DCCAFN","g":"Low risk","k":"x","t":3.0,"s":0.925},
{"p":"DCCAFN","g":"Low risk","k":"x","t":3.1,"s":0.925},
{"p":"DCCAFN","g":"Low risk","k":"x","t":3.2,"s":0.91},
{"p":"DCCAFN","g":"Low risk","k":"x","t":3.6,"s":0.88},
{"p":"DCCAFN","g":"Low risk","k":"x","t":3.7,"s":0.88},
{"p":"DCCAFN","g":"Low risk","k":"x","t":3.8,"s":0.86},
{"p":"DCCAFN","g":"Low risk","k":"x","t":3.9,"s":0.86},
{"p":"DCCAFN","g":"Low risk","k":"x","t":4.0,"s":0.84},
{"p":"DCCAFN","g":"Low risk","k":"x","t":4.9,"s":0.76},
{"p":"DCCAFN","g":"Low risk","k":"x","t":5.0,"s":0.73},
{"p":"DCCAFN","g":"Low risk","k":"x","t":5.2,"s":0.66},
{"p":"DCCAFN","g":"Low risk","k":"x","t":5.3,"s":0.63},
{"p":"DCCAFN","g":"Low risk","k":"x","t":6.4,"s":0.2},
{"p":"DCCAFN","g":"Low risk","k":"x","t":6.6,"s":0.2}
]
},
"concat": [
{"width": 386, "height": 204, "title": "DeepSurv",
 "encoding": {
  "x": {"field":"t","type":"quantitative","scale":{"domain":[-0.5,10.5],"nice":false,"zero":false},"axis":{"title":"Time in Year","values":[0,1.25,2.5,3.75,5,6.25,7.5,8.75,10],"labelExpr":"datum.value % 2.5 === 0 ? format(datum.value,'~g') : ''","tickColor":{"condition":{"test":"datum.value % 2.5 !== 0","value":"transparent"},"value":"#333333"},"gridWidth":{"condition":{"test":"datum.value % 2.5 !== 0","value":0.7},"value":1.4}}},
  "y": {"field":"s","type":"quantitative","scale":{"domain":[-0.05,1.05],"nice":false,"zero":false},"axis":{"title":"Survival probability","values":[0,0.125,0.25,0.375,0.5,0.625,0.75,0.875,1],"labelExpr":"(datum.value*4) % 1 === 0 ? format(datum.value,'.2f') : ''","tickColor":{"condition":{"test":"(datum.value*4) % 1 !== 0","value":"transparent"},"value":"#333333"},"gridWidth":{"condition":{"test":"(datum.value*4) % 1 !== 0","value":0.7},"value":1.4}}},
  "color": {"field":"g","type":"nominal","scale":{"domain":["High risk","Low risk"],"range":["#FF2A2A","#0000FF"]},"legend":{"title":null,"orient":"none","legendX":246,"legendY":36,"symbolType":"M-1,0L1,0M0,-0.55L0,0.55","symbolSize":900,"symbolStrokeWidth":3,"labelFontSize":20,"labelOffset":13,"rowPadding":7,"padding":0,"labelColor":"#1A1A1A"}}
 },
 "layer": [
  {"data":{"name":"km"},"transform":[{"filter":"datum.p === 'DeepSurv' && datum.k === 'c'"}],"mark":{"type":"line","interpolate":"step-after","strokeWidth":2.3}},
  {"data":{"name":"km"},"transform":[{"filter":"datum.p === 'DeepSurv' && datum.k === 'x'"}],"mark":{"type":"point","shape":"M-1,0L1,0M0,-1L0,1","size":170,"strokeWidth":2.2,"filled":false,"opacity":1}},
  {"data":{"name":"pv"},"transform":[{"filter":"datum.p === 'DeepSurv'"}],"mark":{"type":"text","align":"left","baseline":"alphabetic","fontSize":29},"encoding":{"text":{"field":"label"},"color":{"value":"black"}}}
 ]
},
{"width": 380, "height": 204, "title": "GPDBN",
 "encoding": {
  "x": {"field":"t","type":"quantitative","scale":{"domain":[-0.5,10.33],"nice":false,"zero":false},"axis":{"title":"Time in Year","values":[0,1.25,2.5,3.75,5,6.25,7.5,8.75,10],"labelExpr":"datum.value % 2.5 === 0 ? format(datum.value,'~g') : ''","tickColor":{"condition":{"test":"datum.value % 2.5 !== 0","value":"transparent"},"value":"#333333"},"gridWidth":{"condition":{"test":"datum.value % 2.5 !== 0","value":0.7},"value":1.4}}},
  "y": {"field":"s","type":"quantitative","scale":{"domain":[-0.05,1.05],"nice":false,"zero":false},"axis":{"title":"Survival probability","values":[0,0.125,0.25,0.375,0.5,0.625,0.75,0.875,1],"labelExpr":"(datum.value*4) % 1 === 0 ? format(datum.value,'.2f') : ''","tickColor":{"condition":{"test":"(datum.value*4) % 1 !== 0","value":"transparent"},"value":"#333333"},"gridWidth":{"condition":{"test":"(datum.value*4) % 1 !== 0","value":0.7},"value":1.4}}},
  "color": {"field":"g","type":"nominal","scale":{"domain":["High risk","Low risk"],"range":["#FF2A2A","#0000FF"]},"legend":{"title":null,"orient":"none","legendX":246,"legendY":36,"symbolType":"M-1,0L1,0M0,-0.55L0,0.55","symbolSize":900,"symbolStrokeWidth":3,"labelFontSize":20,"labelOffset":13,"rowPadding":7,"padding":0,"labelColor":"#1A1A1A"}}
 },
 "layer": [
  {"data":{"name":"km"},"transform":[{"filter":"datum.p === 'GPDBN' && datum.k === 'c'"}],"mark":{"type":"line","interpolate":"step-after","strokeWidth":2.3}},
  {"data":{"name":"km"},"transform":[{"filter":"datum.p === 'GPDBN' && datum.k === 'x'"}],"mark":{"type":"point","shape":"M-1,0L1,0M0,-1L0,1","size":170,"strokeWidth":2.2,"filled":false,"opacity":1}},
  {"data":{"name":"pv"},"transform":[{"filter":"datum.p === 'GPDBN'"}],"mark":{"type":"text","align":"left","baseline":"alphabetic","fontSize":29},"encoding":{"text":{"field":"label"},"color":{"value":"black"}}}
 ]
},
{"width": 386, "height": 204, "title": "HFBSurv",
 "encoding": {
  "x": {"field":"t","type":"quantitative","scale":{"domain":[-0.5,10.5],"nice":false,"zero":false},"axis":{"title":"Time in Year","values":[0,1.25,2.5,3.75,5,6.25,7.5,8.75,10],"labelExpr":"datum.value % 2.5 === 0 ? format(datum.value,'~g') : ''","tickColor":{"condition":{"test":"datum.value % 2.5 !== 0","value":"transparent"},"value":"#333333"},"gridWidth":{"condition":{"test":"datum.value % 2.5 !== 0","value":0.7},"value":1.4}}},
  "y": {"field":"s","type":"quantitative","scale":{"domain":[-0.05,1.05],"nice":false,"zero":false},"axis":{"title":"Survival probability","values":[0,0.125,0.25,0.375,0.5,0.625,0.75,0.875,1],"labelExpr":"(datum.value*4) % 1 === 0 ? format(datum.value,'.2f') : ''","tickColor":{"condition":{"test":"(datum.value*4) % 1 !== 0","value":"transparent"},"value":"#333333"},"gridWidth":{"condition":{"test":"(datum.value*4) % 1 !== 0","value":0.7},"value":1.4}}},
  "color": {"field":"g","type":"nominal","scale":{"domain":["High risk","Low risk"],"range":["#FF2A2A","#0000FF"]},"legend":{"title":null,"orient":"none","legendX":246,"legendY":36,"symbolType":"M-1,0L1,0M0,-0.55L0,0.55","symbolSize":900,"symbolStrokeWidth":3,"labelFontSize":20,"labelOffset":13,"rowPadding":7,"padding":0,"labelColor":"#1A1A1A"}}
 },
 "layer": [
  {"data":{"name":"km"},"transform":[{"filter":"datum.p === 'HFBSurv' && datum.k === 'c'"}],"mark":{"type":"line","interpolate":"step-after","strokeWidth":2.3}},
  {"data":{"name":"km"},"transform":[{"filter":"datum.p === 'HFBSurv' && datum.k === 'x'"}],"mark":{"type":"point","shape":"M-1,0L1,0M0,-1L0,1","size":170,"strokeWidth":2.2,"filled":false,"opacity":1}},
  {"data":{"name":"pv"},"transform":[{"filter":"datum.p === 'HFBSurv'"}],"mark":{"type":"text","align":"left","baseline":"alphabetic","fontSize":29},"encoding":{"text":{"field":"label"},"color":{"value":"black"}}}
 ]
},
{"width": 380, "height": 204, "title": "DeepMMSA",
 "encoding": {
  "x": {"field":"t","type":"quantitative","scale":{"domain":[-0.5,10.33],"nice":false,"zero":false},"axis":{"title":"Time in Year","values":[0,1.25,2.5,3.75,5,6.25,7.5,8.75,10],"labelExpr":"datum.value % 2.5 === 0 ? format(datum.value,'~g') : ''","tickColor":{"condition":{"test":"datum.value % 2.5 !== 0","value":"transparent"},"value":"#333333"},"gridWidth":{"condition":{"test":"datum.value % 2.5 !== 0","value":0.7},"value":1.4}}},
  "y": {"field":"s","type":"quantitative","scale":{"domain":[-0.05,1.05],"nice":false,"zero":false},"axis":{"title":"Survival probability","values":[0,0.125,0.25,0.375,0.5,0.625,0.75,0.875,1],"labelExpr":"(datum.value*4) % 1 === 0 ? format(datum.value,'.2f') : ''","tickColor":{"condition":{"test":"(datum.value*4) % 1 !== 0","value":"transparent"},"value":"#333333"},"gridWidth":{"condition":{"test":"(datum.value*4) % 1 !== 0","value":0.7},"value":1.4}}},
  "color": {"field":"g","type":"nominal","scale":{"domain":["High risk","Low risk"],"range":["#FF2A2A","#0000FF"]},"legend":{"title":null,"orient":"none","legendX":246,"legendY":36,"symbolType":"M-1,0L1,0M0,-0.55L0,0.55","symbolSize":900,"symbolStrokeWidth":3,"labelFontSize":20,"labelOffset":13,"rowPadding":7,"padding":0,"labelColor":"#1A1A1A"}}
 },
 "layer": [
  {"data":{"name":"km"},"transform":[{"filter":"datum.p === 'DeepMMSA' && datum.k === 'c'"}],"mark":{"type":"line","interpolate":"step-after","strokeWidth":2.3}},
  {"data":{"name":"km"},"transform":[{"filter":"datum.p === 'DeepMMSA' && datum.k === 'x'"}],"mark":{"type":"point","shape":"M-1,0L1,0M0,-1L0,1","size":170,"strokeWidth":2.2,"filled":false,"opacity":1}},
  {"data":{"name":"pv"},"transform":[{"filter":"datum.p === 'DeepMMSA'"}],"mark":{"type":"text","align":"left","baseline":"alphabetic","fontSize":29},"encoding":{"text":{"field":"label"},"color":{"value":"black"}}}
 ]
},
{"width": 386, "height": 204, "title": "DCCAFN",
 "encoding": {
  "x": {"field":"t","type":"quantitative","scale":{"domain":[-0.5,10.5],"nice":false,"zero":false},"axis":{"title":"Time in Year","values":[0,1.25,2.5,3.75,5,6.25,7.5,8.75,10],"labelExpr":"datum.value % 2.5 === 0 ? format(datum.value,'~g') : ''","tickColor":{"condition":{"test":"datum.value % 2.5 !== 0","value":"transparent"},"value":"#333333"},"gridWidth":{"condition":{"test":"datum.value % 2.5 !== 0","value":0.7},"value":1.4}}},
  "y": {"field":"s","type":"quantitative","scale":{"domain":[-0.05,1.05],"nice":false,"zero":false},"axis":{"title":"Survival probability","values":[0,0.125,0.25,0.375,0.5,0.625,0.75,0.875,1],"labelExpr":"(datum.value*4) % 1 === 0 ? format(datum.value,'.2f') : ''","tickColor":{"condition":{"test":"(datum.value*4) % 1 !== 0","value":"transparent"},"value":"#333333"},"gridWidth":{"condition":{"test":"(datum.value*4) % 1 !== 0","value":0.7},"value":1.4}}},
  "color": {"field":"g","type":"nominal","scale":{"domain":["High risk","Low risk"],"range":["#FF2A2A","#0000FF"]},"legend":{"title":null,"orient":"none","legendX":246,"legendY":36,"symbolType":"M-1,0L1,0M0,-0.55L0,0.55","symbolSize":900,"symbolStrokeWidth":3,"labelFontSize":20,"labelOffset":13,"rowPadding":7,"padding":0,"labelColor":"#1A1A1A"}}
 },
 "layer": [
  {"data":{"name":"km"},"transform":[{"filter":"datum.p === 'DCCAFN' && datum.k === 'c'"}],"mark":{"type":"line","interpolate":"step-after","strokeWidth":2.3}},
  {"data":{"name":"km"},"transform":[{"filter":"datum.p === 'DCCAFN' && datum.k === 'x'"}],"mark":{"type":"point","shape":"M-1,0L1,0M0,-1L0,1","size":170,"strokeWidth":2.2,"filled":false,"opacity":1}},
  {"data":{"name":"pv"},"transform":[{"filter":"datum.p === 'DCCAFN'"}],"mark":{"type":"text","align":"left","baseline":"alphabetic","fontSize":29},"encoding":{"text":{"field":"label"},"color":{"value":"black"}}}
 ]
}
],
"resolve": {"scale": {"color": "independent"}, "legend": {"color": "independent"}},
"config": {
 "font": "Liberation Sans",
 "view": {"stroke": null},
 "background": "white",
 "title": {"fontSize": 24, "fontWeight": "normal", "color": "#000000", "anchor": "middle", "baseline": "alphabetic", "offset": 11},
 "axis": {"domain": false, "gridColor": "#EBEBEB", "tickSize": 6, "tickWidth": 1.4, "labelFontSize": 18, "labelColor": "#4D4D4D", "labelOverlap": false, "labelFlush": false, "labelBound": false, "titleFontSize": 23, "titleFontWeight": "normal", "titleColor": "#000000"},
 "axisX": {"labelPadding": 5, "titlePadding": 6.5},
 "axisY": {"labelPadding": 4, "titlePadding": 10}
}
}
